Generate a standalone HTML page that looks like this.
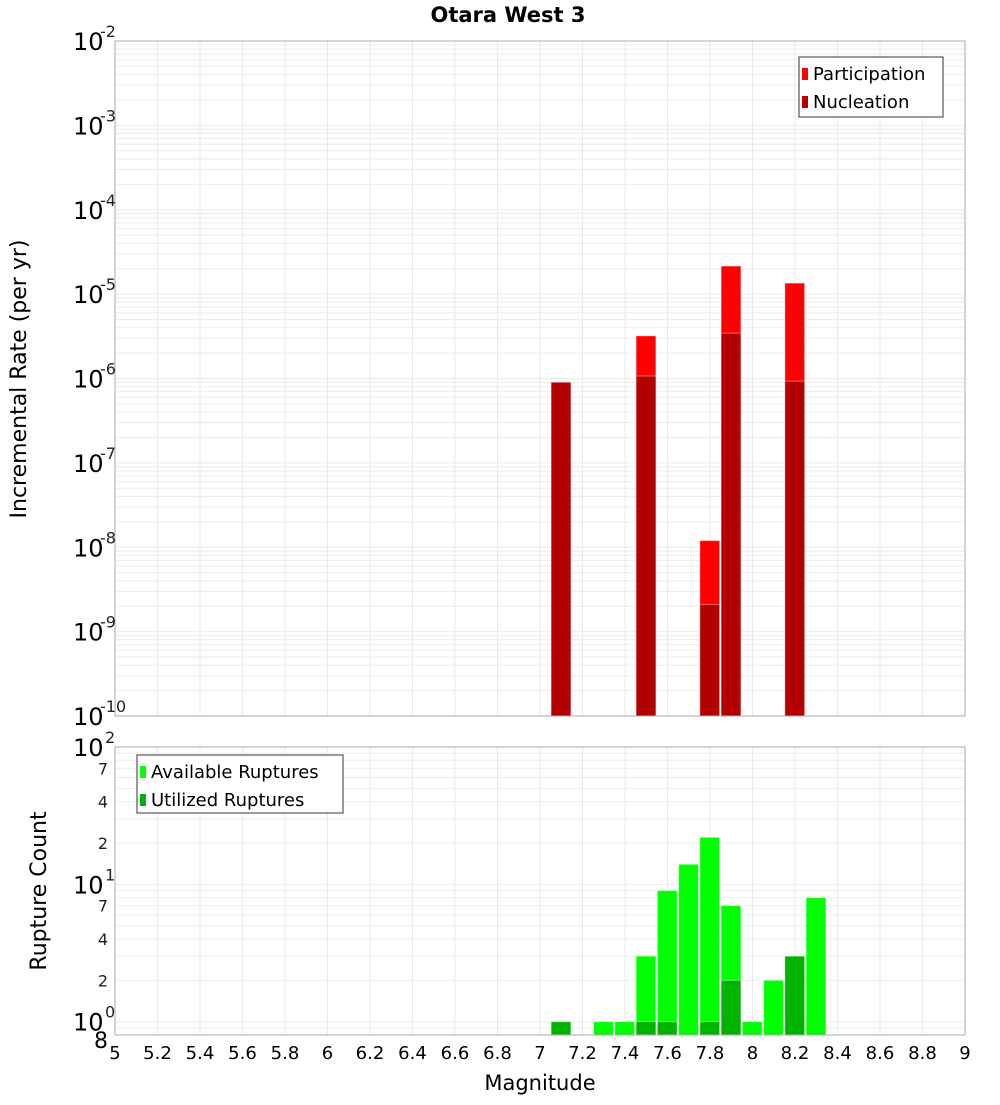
<!DOCTYPE html>
<html><head><meta charset="utf-8"><style>
body{margin:0;background:#fff;width:1000px;height:1100px;overflow:hidden}
svg{font-family:"DejaVu Sans","Liberation Sans",sans-serif}
</style></head><body>
<svg id="c" width="1000" height="1100" viewBox="0 0 1000 1100"></svg>
<script>
const mags=[7.1,7.3,7.4,7.5,7.6,7.7,7.8,7.9,8.0,8.1,8.2,8.3];
const partMags=[7.1,7.5,7.8,7.9,8.2];
const partRates=[9.1e-7,3.2e-6,1.2e-8,2.15e-5,1.35e-5];
const nuclRates=[9.0e-7,1.07e-6,2.1e-9,3.45e-6,9.3e-7];
const availMags=[7.3,7.4,7.5,7.6,7.7,7.8,7.9,8.0,8.1,8.2,8.3];
const availCounts=[1,1,3,9,14,22,7,1,2,3,8];
const usedMags=[7.1,7.5,7.6,7.8,7.9,8.2];
const usedCounts=[1,1,1,1,2,3];
const xTicks=[5,5.2,5.4,5.6,5.8,6,6.2,6.4,6.6,6.8,7,7.2,7.4,7.6,7.8,8,8.2,8.4,8.6,8.8,9];
const topExps=[-2,-3,-4,-5,-6,-7,-8,-9,-10];

const NS="http://www.w3.org/2000/svg";
const svg=document.getElementById('c');
function mk(tag,attrs,parent){const e=document.createElementNS(NS,tag);for(const k in attrs)e.setAttribute(k,attrs[k]);(parent||svg).appendChild(e);return e;}
const L=115,R=965,T1=41,B1=716,T2=747,B2=1035;
const x=m=>L+(m-5)/4*(R-L);
const y1=v=>B1-(Math.log10(v)+10)/8*(B1-T1);
const lmin=Math.log10(0.8),lmax=2;
const y2=v=>B2-(Math.log10(v)-lmin)/(lmax-lmin)*(B2-T2);

// grids
const g=mk('g',{});


for(let m=5;m<=9.001;m+=0.2){
  mk('line',{x1:x(m),x2:x(m),y1:T1,y2:B1,stroke:'#e8e8e8'},g);
  mk('line',{x1:x(m),x2:x(m),y1:T2,y2:B2,stroke:'#e8e8e8'},g);
}
for(let e=-10;e<-2;e++)for(let k=1;k<10;k++){const yy=y1(k*Math.pow(10,e));mk('line',{x1:L,x2:R,y1:yy,y2:yy,stroke:'#ebebeb'},g);}
for(let e=-1;e<2;e++)for(let k=1;k<10;k++){const v=k*Math.pow(10,e);if(v<0.8)continue;const yy=y2(v);mk('line',{x1:L,x2:R,y1:yy,y2:yy,stroke:'#ebebeb'},g);}

function bar(m,v,fill,yf,base,name){
  const r=mk('rect',{x:x(m-0.05)+0.5,width:x(m+0.05)-x(m-0.05)-1.5,y:yf(v),height:base-yf(v),fill:fill,stroke:'rgba(255,255,255,0.4)','stroke-width':1});
  
  
}
partMags.forEach((m,i)=>bar(m,partRates[i],'#ff0000',y1,B1,'participation-bar'));
partMags.forEach((m,i)=>bar(m,nuclRates[i],'#b30000',y1,B1,'nucleation-bar'));
availMags.forEach((m,i)=>bar(m,availCounts[i],'#00ff00',y2,B2,'available-bar'));
usedMags.forEach((m,i)=>bar(m,usedCounts[i],'#00b300',y2,B2,'utilized-bar'));

// frames
let f=mk('rect',{x:L,y:T1,width:R-L,height:B1-T1,fill:'none',stroke:'#aaa'});

f=mk('rect',{x:L,y:T2,width:R-L,height:B2-T2,fill:'none',stroke:'#aaa'});


// title
let t=mk('text',{x:508,y:22,'text-anchor':'middle','font-size':21,'font-weight':'bold'});t.textContent='Otara West 3';


// top y labels
topExps.forEach(e=>{
  const yy=y1(Math.pow(10,e));
  const tx=mk('text',{x:73,y:yy+9,'font-size':24,fill:'#000'});tx.textContent='10';
  
  const ex=mk('text',{x:100,y:yy-4,'font-size':16,fill:'#222'});ex.textContent=String(e);
  
});
// bottom y labels
[0,1,2].forEach(e=>{
  const yy=y2(Math.pow(10,e));
  const tx=mk('text',{x:73,y:yy+9,'font-size':24});tx.textContent='10';
  
  const ex=mk('text',{x:105,y:yy-4,'font-size':16,fill:'#222'});ex.textContent=String(e);
  
});
[2,4,7,20,40,70].forEach(v=>{
  const tx=mk('text',{x:108,y:y2(v)+6,'font-size':16,'text-anchor':'end',fill:'#222'});tx.textContent=String(v>=10?v/10:v);
  
});
t=mk('text',{x:108,y:B2+13,'font-size':22,'text-anchor':'end'});t.textContent='8';


// x ticks
xTicks.forEach(m=>{
  const tx=mk('text',{x:x(m),y:1059,'font-size':18,'text-anchor':'middle'});tx.textContent=String(m);
  
});
t=mk('text',{x:540,y:1090,'font-size':21,'text-anchor':'middle'});t.textContent='Magnitude';

t=mk('text',{x:0,y:0,'font-size':22,'text-anchor':'middle',transform:'translate(26,379) rotate(-90)'});t.textContent='Incremental Rate (per yr)';

t=mk('text',{x:0,y:0,'font-size':22,'text-anchor':'middle',transform:'translate(46,891) rotate(-90)'});t.textContent='Rupture Count';


// legends
function legend(x0,y0,w,h,items,name){
  const lg=mk('g',{});
  
  mk('rect',{x:x0,y:y0,width:w,height:h,fill:'#fff',stroke:'#333'},lg);
  items.forEach((it,i)=>{
    mk('rect',{x:x0+3,y:y0+11+i*28,width:6,height:12,fill:it[1]},lg);
    const tx=mk('text',{x:x0+14,y:y0+23+i*28,'font-size':18},lg);tx.textContent=it[0];
    
  });
}
legend(799,57,144,60,[['Participation','#ff0000'],['Nucleation','#b30000']],'top-legend');
legend(137,755,206,58,[['Available Ruptures','#00ff00'],['Utilized Ruptures','#00b300']],'bottom-legend');
</script>
</body></html>
